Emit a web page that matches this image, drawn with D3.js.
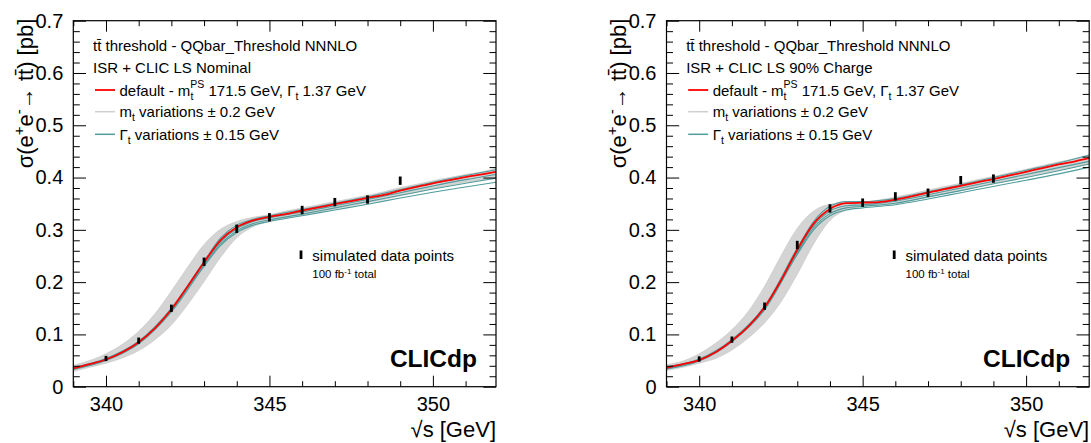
<!DOCTYPE html>
<html>
<head>
<meta charset="utf-8">
<script src="https://cdn.jsdelivr.net/npm/d3@7"></script>
<style>
  body { margin: 0; background: #fff; }
  svg { display: block; font-family: "Liberation Sans", Arial, Helvetica, sans-serif; }
</style>
</head>
<body>
<svg id="chart" width="1091" height="443"></svg>
<script>
// ---------------- DATA ----------------
const xTicksMajor = [340, 345, 350];
const xTicksMinor = [339, 340, 341, 342, 343, 344, 345, 346, 347, 348, 349, 350, 351];
const yTicksMajor = [0, 0.1, 0.2, 0.3, 0.4, 0.5, 0.6, 0.7];
const yTicksMinor = d3.range(0, 0.7001, 0.02);

// fine grid for default curve and m_t variation band
const gridX = [339, 339.5, 340, 340.5, 341, 341.5, 342, 342.5, 343, 343.5, 344, 344.5, 345, 345.5,
               346, 346.5, 347, 347.5, 348, 348.5, 349, 349.5, 350, 350.5, 351, 351.5, 351.93];

// Nominal luminosity spectrum
const nominalDefault = [0.035, 0.043, 0.052, 0.066, 0.085, 0.112, 0.148, 0.192, 0.238, 0.280, 0.305, 0.318, 0.325, 0.330,
                        0.337, 0.343, 0.349, 0.355, 0.361, 0.367, 0.375, 0.382, 0.389, 0.395, 0.401, 0.406, 0.411];
const nominalMtUpper = [0.041, 0.050, 0.063, 0.081, 0.106, 0.140, 0.183, 0.229, 0.272, 0.301, 0.316, 0.324, 0.329, 0.336,
                        0.342, 0.348, 0.354, 0.360, 0.366, 0.373, 0.381, 0.387, 0.394, 0.400, 0.406, 0.411, 0.418];
const nominalMtLower = [0.029, 0.037, 0.045, 0.055, 0.069, 0.090, 0.118, 0.157, 0.201, 0.247, 0.285, 0.306, 0.316, 0.322,
                        0.328, 0.334, 0.340, 0.346, 0.352, 0.358, 0.365, 0.372, 0.379, 0.385, 0.391, 0.396, 0.401];

// 90% charge luminosity spectrum
const chargeDefault = [0.036, 0.043, 0.051, 0.066, 0.088, 0.115, 0.152, 0.203, 0.262, 0.312, 0.340, 0.351, 0.352, 0.353,
                       0.358, 0.364, 0.371, 0.378, 0.384, 0.391, 0.397, 0.404, 0.411, 0.418, 0.425, 0.431, 0.437];
const chargeMtUpper = [0.042, 0.049, 0.063, 0.083, 0.109, 0.144, 0.192, 0.250, 0.303, 0.336, 0.349, 0.352, 0.353, 0.357,
                       0.363, 0.369, 0.376, 0.383, 0.389, 0.396, 0.402, 0.409, 0.416, 0.423, 0.430, 0.436, 0.442];
const chargeMtLower = [0.031, 0.037, 0.045, 0.054, 0.070, 0.093, 0.122, 0.162, 0.215, 0.273, 0.318, 0.338, 0.345, 0.347,
                       0.350, 0.356, 0.362, 0.369, 0.375, 0.382, 0.388, 0.394, 0.401, 0.408, 0.414, 0.420, 0.426];

// width variation curves (coarser grid)
const gammaX = [339, 340, 341, 342, 343, 343.5, 344, 344.5, 345, 346, 347, 348, 349, 350, 351, 351.93];
const nominalGamma1 = [0.037, 0.054, 0.087, 0.150, 0.240, 0.284, 0.309, 0.320, 0.327, 0.339, 0.351, 0.363, 0.377, 0.391, 0.404, 0.415];
const nominalGamma2 = [0.036, 0.053, 0.086, 0.147, 0.236, 0.277, 0.302, 0.316, 0.323, 0.334, 0.346, 0.358, 0.371, 0.384, 0.396, 0.406];
const nominalGamma3 = [0.034, 0.051, 0.083, 0.145, 0.233, 0.273, 0.298, 0.312, 0.319, 0.330, 0.342, 0.354, 0.366, 0.378, 0.389, 0.399];
const nominalGamma4 = [0.033, 0.050, 0.082, 0.143, 0.230, 0.270, 0.295, 0.309, 0.316, 0.327, 0.338, 0.349, 0.361, 0.372, 0.382, 0.391];
const chargeGamma1 = [0.038, 0.053, 0.090, 0.154, 0.265, 0.316, 0.345, 0.354, 0.354, 0.360, 0.373, 0.386, 0.400, 0.414, 0.428, 0.443];
const chargeGamma2 = [0.037, 0.052, 0.089, 0.151, 0.259, 0.308, 0.336, 0.346, 0.348, 0.355, 0.367, 0.380, 0.393, 0.406, 0.419, 0.431];
const chargeGamma3 = [0.035, 0.050, 0.087, 0.149, 0.256, 0.304, 0.331, 0.342, 0.345, 0.351, 0.363, 0.375, 0.388, 0.400, 0.413, 0.426];
const chargeGamma4 = [0.034, 0.049, 0.086, 0.147, 0.253, 0.300, 0.327, 0.338, 0.342, 0.348, 0.359, 0.371, 0.383, 0.395, 0.407, 0.420];

// simulated data points
const dataX = [340, 341, 342, 343, 344, 345, 346, 347, 348, 349];
const nominalData = [0.054, 0.088, 0.150, 0.239, 0.302, 0.324, 0.338, 0.353, 0.358, 0.394];
const nominalErr  = [0.005, 0.006, 0.007, 0.008, 0.008, 0.008, 0.008, 0.008, 0.008, 0.008];
const chargeData  = [0.053, 0.090, 0.154, 0.271, 0.341, 0.352, 0.364, 0.371, 0.395, 0.398];
const chargeErr   = [0.005, 0.006, 0.007, 0.008, 0.008, 0.008, 0.008, 0.008, 0.008, 0.008];

const lumiLabels = ["ISR + CLIC LS Nominal", "ISR + CLIC LS 90% Charge"];

// ---------------- DRAWING ----------------
const svg = d3.select("#chart");
const FONT = '"Liberation Sans", Arial, Helvetica, sans-serif';
const RED = "#ff0000", TEAL = "#519c9c", GREY = "#d4d4d4";
const yTop = 20.7, yBot = 386.7;

const panels = [
  { x0: 73.3, x1: 496.0, def: nominalDefault, up: nominalMtUpper, lo: nominalMtLower,
    gam: [nominalGamma1, nominalGamma2, nominalGamma3, nominalGamma4], data: nominalData, err: nominalErr, lumi: lumiLabels[0] },
  { x0: 666.5, x1: 1089.2, def: chargeDefault, up: chargeMtUpper, lo: chargeMtLower,
    gam: [chargeGamma1, chargeGamma2, chargeGamma3, chargeGamma4], data: chargeData, err: chargeErr, lumi: lumiLabels[1] }
];

panels.forEach((p, pi) => {
  const x = d3.scaleLinear().domain([339, 351.93]).range([p.x0, p.x1]);
  const y = d3.scaleLinear().domain([0, 0.7]).range([yBot, yTop]);
  const g = svg.append("g");
  const clipId = "clip" + pi;
  svg.append("clipPath").attr("id", clipId).append("rect")
    .attr("x", p.x0).attr("y", yTop).attr("width", p.x1 - p.x0).attr("height", yBot - yTop);
  const plot = g.append("g").attr("clip-path", `url(#${clipId})`);

  // m_t variation band
  const area = d3.area().x((d, i) => x(gridX[i])).y0((d, i) => y(p.lo[i])).y1((d, i) => y(p.up[i])).curve(d3.curveMonotoneX);
  plot.append("path").datum(p.up).attr("d", area).attr("fill", GREY).attr("stroke", "#c6c6c6").attr("stroke-width", 0.6);

  // Gamma variations
  const gline = d3.line().x((d, i) => x(gammaX[i])).y(d => y(d)).curve(d3.curveMonotoneX);
  p.gam.forEach(arr => {
    plot.append("path").datum(arr).attr("d", gline).attr("fill", "none").attr("stroke", TEAL).attr("stroke-width", 1.1);
  });

  // default
  const line = d3.line().x((d, i) => x(gridX[i])).y(d => y(d)).curve(d3.curveMonotoneX);
  plot.append("path").datum(p.def).attr("d", line).attr("fill", "none").attr("stroke", RED).attr("stroke-width", 1.8);

  // data points
  plot.selectAll("rect.pt").data(p.data).enter().append("rect")
    .attr("x", (d, i) => x(dataX[i]) - 1.4).attr("width", 2.8)
    .attr("y", (d, i) => y(d + p.err[i])).attr("height", (d, i) => y(d - p.err[i]) - y(d + p.err[i]))
    .attr("fill", "#000");

  // axes (inward ticks)
  const fmt = d => d === 0 ? "0" : d3.format(".1f")(d);
  const minorX = xTicksMinor.filter(v => !xTicksMajor.includes(v));
  const minorY = yTicksMinor.filter(v => Math.abs(v * 10 - Math.round(v * 10)) > 1e-6);
  const axB = g.append("g").attr("transform", `translate(0,${yBot})`)
    .call(d3.axisBottom(x).tickValues(xTicksMajor).tickSizeInner(-11).tickSizeOuter(0).tickPadding(10).tickFormat(d3.format("d")));
  const axBm = g.append("g").attr("transform", `translate(0,${yBot})`)
    .call(d3.axisBottom(x).tickValues(minorX).tickSizeInner(-5.5).tickSizeOuter(0).tickFormat(""));
  const axT = g.append("g").attr("transform", `translate(0,${yTop})`)
    .call(d3.axisTop(x).tickValues(xTicksMajor).tickSizeInner(-11).tickSizeOuter(0).tickFormat(""));
  const axTm = g.append("g").attr("transform", `translate(0,${yTop})`)
    .call(d3.axisTop(x).tickValues(minorX).tickSizeInner(-5.5).tickSizeOuter(0).tickFormat(""));
  const axL = g.append("g").attr("transform", `translate(${p.x0},0)`)
    .call(d3.axisLeft(y).tickValues(yTicksMajor).tickSizeInner(-12.7).tickSizeOuter(0).tickPadding(10).tickFormat(fmt));
  const axLm = g.append("g").attr("transform", `translate(${p.x0},0)`)
    .call(d3.axisLeft(y).tickValues(minorY).tickSizeInner(-6.5).tickSizeOuter(0).tickFormat(""));
  const axR = g.append("g").attr("transform", `translate(${p.x1},0)`)
    .call(d3.axisRight(y).tickValues(yTicksMajor).tickSizeInner(-12.7).tickSizeOuter(0).tickFormat(""));
  const axRm = g.append("g").attr("transform", `translate(${p.x1},0)`)
    .call(d3.axisRight(y).tickValues(minorY).tickSizeInner(-6.5).tickSizeOuter(0).tickFormat(""));
  [axB, axBm, axT, axTm, axL, axLm, axR, axRm].forEach(a => {
    a.select(".domain").remove();
    a.selectAll("line").attr("stroke", "#000").attr("stroke-width", 1);
    a.selectAll("text").attr("font-family", FONT).attr("font-size", 20).attr("fill", "#000");
  });

  // frame
  g.append("rect").attr("x", p.x0).attr("y", yTop).attr("width", p.x1 - p.x0).attr("height", yBot - yTop)
    .attr("fill", "none").attr("stroke", "#000").attr("stroke-width", 1.2);

  // axis titles
  g.append("text").attr("x", p.x1).attr("y", 437).attr("text-anchor", "end")
    .attr("font-size", 22).attr("fill", "#000").text("\u221As [GeV]");

  const yt = g.append("text").attr("transform", `translate(${p.x0 - 40.5},${yTop - 2}) rotate(-90)`)
    .attr("text-anchor", "end").attr("font-size", 22).attr("fill", "#000");
  yt.append("tspan").text("\u03C3(e");
  yt.append("tspan").attr("dy", -9).attr("font-size", 15).text("+");
  yt.append("tspan").attr("dy", 9).text("e");
  yt.append("tspan").attr("dy", -9).attr("font-size", 15).text("-");
  yt.append("tspan").attr("dy", 9).text("\u2192 tt\u0304) [pb]");

  // legend
  const lx = p.x0 + 19.7, ls = p.x0 + 21.7, le = p.x0 + 41.7, lt = p.x0 + 46.2;
  const leg = g.append("g").attr("font-size", 15).attr("fill", "#000");
  leg.append("text").attr("x", lx).attr("y", 50.5).text("tt\u0304 threshold - QQbar_Threshold NNNLO");
  leg.append("text").attr("x", lx).attr("y", 73).text(p.lumi);

  leg.append("line").attr("x1", ls).attr("x2", le).attr("y1", 90).attr("y2", 90).attr("stroke", RED).attr("stroke-width", 1.8);
  const t3 = leg.append("text").attr("x", lt).attr("y", 95.5);
  t3.append("tspan").text("default - m");
  t3.append("tspan").attr("dy", 4).attr("font-size", 10.5).text("t");
  t3.append("tspan").attr("dx", -3).attr("dy", -12).attr("font-size", 10.5).text("PS");
  t3.append("tspan").attr("dy", 8).text(" 171.5 GeV, \u0393");
  t3.append("tspan").attr("dy", 4).attr("font-size", 10.5).text("t");
  t3.append("tspan").attr("dy", -4).text(" 1.37 GeV");

  leg.append("line").attr("x1", ls).attr("x2", le).attr("y1", 111.7).attr("y2", 111.7).attr("stroke", "#cfcfcf").attr("stroke-width", 1.5);
  const t4 = leg.append("text").attr("x", lt).attr("y", 117);
  t4.append("tspan").text("m");
  t4.append("tspan").attr("dy", 4).attr("font-size", 10.5).text("t");
  t4.append("tspan").attr("dy", -4).text(" variations \u00B1 0.2 GeV");

  leg.append("line").attr("x1", ls).attr("x2", le).attr("y1", 134.3).attr("y2", 134.3).attr("stroke", TEAL).attr("stroke-width", 1.5);
  const t5 = leg.append("text").attr("x", lt).attr("y", 139.5);
  t5.append("tspan").text("\u0393");
  t5.append("tspan").attr("dy", 4).attr("font-size", 10.5).text("t");
  t5.append("tspan").attr("dy", -4).text(" variations \u00B1 0.15 GeV");

  // data legend
  const dx = p.x0 + 227.7;
  g.append("rect").attr("x", dx - 1.4).attr("width", 2.8).attr("y", 250.5).attr("height", 8.5).attr("fill", "#000");
  g.append("text").attr("x", p.x0 + 239).attr("y", 260.5).attr("font-size", 15).attr("fill", "#000").text("simulated data points");
  const tl = g.append("text").attr("x", p.x0 + 239).attr("y", 277.5).attr("font-size", 11.5).attr("fill", "#000");
  tl.append("tspan").text("100 fb");
  tl.append("tspan").attr("dy", -4).attr("font-size", 8).text("-1");
  tl.append("tspan").attr("dy", 4).text(" total");

  // CLICdp
  g.append("text").attr("x", p.x1 - 19).attr("y", 367).attr("text-anchor", "end")
    .attr("font-size", 24.5).attr("font-weight", "bold").attr("fill", "#000").text("CLICdp");
});
</script>
</body>
</html>
